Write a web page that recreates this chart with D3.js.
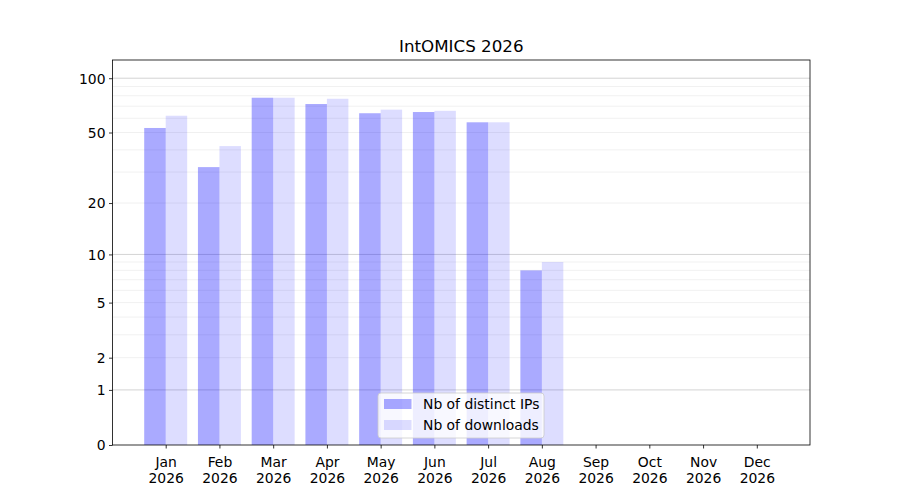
<!DOCTYPE html>
<html>
<head>
<meta charset="utf-8">
<script src="https://cdn.jsdelivr.net/npm/d3@7"></script>
<style>
    body { margin: 0; background: #fff; }
    text { font-family: "DejaVu Sans", sans-serif; fill: #000; }
</style>
</head>
<body>
<svg id="chart" width="900" height="500"></svg>
<script>
// values
const months = ["Jan", "Feb", "Mar", "Apr", "May", "Jun", "Jul", "Aug", "Sep", "Oct", "Nov", "Dec"];
const year = "2026";
const distinctIPs = [53, 32, 78, 72, 64, 65, 57, 8, 0, 0, 0, 0];
const downloads = [62, 42, 78, 77, 67, 66, 57, 9, 0, 0, 0, 0];
const yTicks = [0, 1, 2, 5, 10, 20, 50, 100];
const majorGrid = [1, 10, 100];
const minorGrid = [2, 3, 4, 5, 6, 7, 8, 9, 20, 30, 40, 50, 60, 70, 80, 90];
const seriesNames = ["Nb of distinct IPs", "Nb of downloads"];

const svg = d3.select("#chart");
const plot = {left: 112.5, right: 810, top: 60, bottom: 445};

const x = d3.scaleLinear().domain([0.01, 12.99]).range([plot.left, plot.right]);
const y = d3.scaleSymlog().constant(1).domain([0, 126]).range([plot.bottom, plot.top]);
const barW = x(0.4) - x(0);

// grid
const grid = svg.append("g");
grid.selectAll(".minor").data(minorGrid).enter().append("line")
    .attr("x1", plot.left).attr("x2", plot.right)
    .attr("y1", d => y(d)).attr("y2", d => y(d))
    .attr("stroke", "#000").attr("stroke-opacity", 0.075).attr("stroke-width", 0.8);
grid.selectAll(".major").data(majorGrid).enter().append("line")
    .attr("x1", plot.left).attr("x2", plot.right)
    .attr("y1", d => y(d)).attr("y2", d => y(d))
    .attr("stroke", "#000").attr("stroke-opacity", 0.22).attr("stroke-width", 0.8);

// bars
const bars = svg.append("g");
bars.selectAll(".ip").data(distinctIPs).enter().append("rect")
    .attr("x", (d, i) => x(i + 1) - barW)
    .attr("width", barW)
    .attr("y", d => y(d))
    .attr("height", d => y(0) - y(d))
    .attr("fill", "blue").attr("fill-opacity", 1 / 3);
bars.selectAll(".dl").data(downloads).enter().append("rect")
    .attr("x", (d, i) => x(i + 1))
    .attr("width", barW)
    .attr("y", d => y(d))
    .attr("height", d => y(0) - y(d))
    .attr("fill", "blue").attr("fill-opacity", 0.133);

// axes
const xAxis = svg.append("g").attr("transform", `translate(0,${plot.bottom})`)
    .call(d3.axisBottom(x).tickValues(d3.range(1, 13)).tickSize(3.5).tickPadding(3.5).tickFormat(""));
xAxis.select(".domain").remove();
xAxis.selectAll(".tick line").attr("stroke-width", 0.8);
xAxis.selectAll(".tick").each(function (d) {
    const t = d3.select(this).append("text")
        .attr("text-anchor", "middle").attr("font-size", "13.9px");
    t.append("tspan").attr("x", 0).attr("y", 22).text(months[d - 1]);
    t.append("tspan").attr("x", 0).attr("y", 38).text(year);
});

const yAxis = svg.append("g").attr("transform", `translate(${plot.left},0)`)
    .call(d3.axisLeft(y).tickValues(yTicks).tickSize(3.5).tickPadding(3.5).tickFormat(d3.format("d")));
yAxis.select(".domain").remove();
yAxis.selectAll(".tick line").attr("stroke-width", 0.8);
yAxis.selectAll(".tick text").attr("font-size", "13.9px").attr("font-family", "DejaVu Sans").attr("dy", "0.35em");

svg.append("rect")
    .attr("x", plot.left).attr("y", plot.top)
    .attr("width", plot.right - plot.left).attr("height", plot.bottom - plot.top)
    .attr("fill", "none").attr("stroke", "#000").attr("stroke-width", 0.8);

// title
svg.append("text")
    .attr("x", (plot.left + plot.right) / 2).attr("y", 52)
    .attr("text-anchor", "middle").attr("font-size", "16.7px")
    .text("IntOMICS 2026");

// legend
const legend = svg.append("g").attr("transform", "translate(378,393)");
legend.append("rect")
    .attr("width", 166).attr("height", 45).attr("rx", 3)
    .attr("fill", "#fff").attr("fill-opacity", 0.8)
    .attr("stroke", "#ccc").attr("stroke-width", 0.8);
const opac = [1 / 3, 0.133];
seriesNames.forEach((name, i) => {
    legend.append("rect")
        .attr("x", 6).attr("y", 6 + i * 21)
        .attr("width", 27.5).attr("height", 10)
        .attr("fill", "blue").attr("fill-opacity", opac[i]);
    legend.append("text")
        .attr("x", 45).attr("y", 16 + i * 21)
        .attr("font-size", "13.9px")
        .text(name);
});
</script>
</body>
</html>
